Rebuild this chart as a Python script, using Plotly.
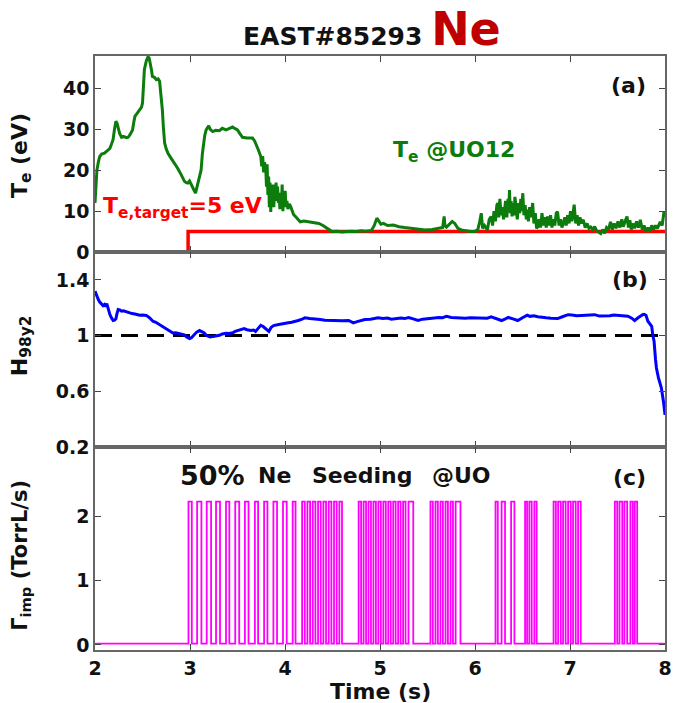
import plotly.graph_objects as go
from plotly.subplots import make_subplots

# ---------------- data ----------------
te_time = [2.000, 2.010, 2.020, 2.035, 2.050, 2.070, 2.100, 2.130, 2.157, 2.175, 2.190, 2.205, 2.220, 2.232, 2.244,
           2.260, 2.280, 2.300, 2.330, 2.349, 2.370, 2.395, 2.410, 2.420, 2.445, 2.470, 2.490, 2.500, 2.510, 2.520,
           2.540, 2.558, 2.570, 2.583, 2.595, 2.604, 2.625, 2.646, 2.665, 2.680, 2.695, 2.709, 2.720, 2.733, 2.750,
           2.768, 2.800, 2.838, 2.870, 2.908, 2.925, 2.942, 2.960, 2.977, 2.995, 3.013, 3.035, 3.058, 3.075, 3.092,
           3.105, 3.117, 3.130, 3.141, 3.155, 3.170, 3.185, 3.197, 3.215, 3.239, 3.270, 3.309, 3.340, 3.379, 3.410,
           3.448, 3.475, 3.500, 3.525, 3.553, 3.600, 3.658, 3.680, 3.700, 3.720, 3.745, 3.755, 3.765, 3.775, 3.785,
           3.798, 3.805, 3.812, 3.820, 3.828, 3.835, 3.842, 3.850, 3.858, 3.866, 3.874, 3.882, 3.890, 3.898, 3.906,
           3.914, 3.922, 3.930, 3.938, 3.946, 3.954, 3.962, 3.970, 3.978, 3.986, 3.994, 4.002, 4.010, 4.020, 4.030,
           4.045, 4.060, 4.075, 4.090, 4.110, 4.135, 4.160, 4.200, 4.250, 4.300, 4.356, 4.400, 4.443, 4.470, 4.495,
           4.550, 4.600, 4.650, 4.700, 4.750, 4.800, 4.850, 4.910, 4.940, 4.967, 4.990, 5.010, 5.037, 5.080, 5.140,
           5.200, 5.260, 5.333, 5.400, 5.473, 5.550, 5.620, 5.660, 5.675, 5.683, 5.700, 5.730, 5.760, 5.787, 5.820,
           5.857, 5.900, 5.950, 5.997, 6.030, 6.050, 6.066, 6.080, 6.100, 6.130, 6.150, 6.170, 6.185, 6.200, 6.215,
           6.230, 6.240, 6.250, 6.262, 6.275, 6.290, 6.300, 6.310, 6.322, 6.335, 6.348, 6.356, 6.363, 6.372, 6.380,
           6.390, 6.400, 6.412, 6.420, 6.432, 6.445, 6.458, 6.470, 6.482, 6.492, 6.503, 6.515, 6.528, 6.540, 6.550,
           6.562, 6.575, 6.590, 6.607, 6.620, 6.635, 6.648, 6.660, 6.675, 6.690, 6.705, 6.720, 6.735, 6.750, 6.764,
           6.780, 6.795, 6.810, 6.825, 6.840, 6.855, 6.869, 6.885, 6.900, 6.915, 6.930, 6.945, 6.960, 6.975, 6.990,
           7.005, 7.020, 7.035, 7.044, 7.060, 7.075, 7.090, 7.105, 7.120, 7.140, 7.160, 7.180, 7.200, 7.218, 7.240,
           7.260, 7.280, 7.300, 7.323, 7.345, 7.365, 7.385, 7.405, 7.427, 7.445, 7.465, 7.485, 7.505, 7.525, 7.545,
           7.560, 7.580, 7.600, 7.615, 7.630, 7.645, 7.660, 7.680, 7.700, 7.720, 7.740, 7.760, 7.780, 7.800, 7.820,
           7.840, 7.860, 7.880, 7.900, 7.920, 7.950, 7.970, 7.990, 8.000]
te_vals = [12.0, 16.5, 20.0, 22.0, 23.4, 24.0, 24.2, 24.8, 25.4, 26.5, 27.5, 30.0, 32.0, 31.5, 30.4,
           29.0, 28.1, 28.3, 28.0, 28.1, 28.8, 29.9, 32.0, 33.2, 34.0, 34.8, 35.5, 36.5, 40.0, 44.7,
           46.8, 47.8, 47.5, 46.3, 44.5, 43.0, 42.8, 42.2, 42.4, 41.8, 38.5, 34.8, 30.5, 26.7, 25.2,
           24.2, 23.0, 21.8, 20.5, 18.9, 18.0, 17.3, 17.0, 16.9, 17.4, 16.4, 15.5, 14.4, 16.0, 17.7,
           19.0, 20.1, 24.0, 26.7, 28.5, 29.9, 30.6, 30.9, 30.0, 29.5, 29.8, 29.7, 30.3, 29.9, 30.2,
           30.6, 30.2, 29.9, 29.0, 28.1, 27.9, 27.9, 27.2, 26.3, 25.0, 23.4, 21.0, 23.5, 19.5, 22.0,
           20.1, 16.0, 21.5, 14.0, 18.5, 11.0, 17.0, 9.8, 15.5, 12.0, 16.5, 11.0, 15.0, 12.5, 17.0,
           13.0, 16.0, 12.0, 14.5, 10.5, 13.5, 11.0, 16.5, 10.0, 14.0, 11.5, 15.0, 11.0, 12.5, 10.5,
           11.8, 11.1, 10.0, 9.2, 8.7, 8.0, 7.4, 7.6, 7.4, 7.1, 7.0, 6.5, 5.8, 5.3, 5.0,
           5.1, 4.9, 5.0, 5.1, 5.0, 5.2, 5.1, 5.3, 6.5, 8.3, 7.5, 6.8, 7.0, 6.5, 6.6,
           6.2, 6.0, 5.8, 5.6, 5.4, 5.5, 5.7, 6.0, 8.7, 6.5, 6.1, 6.8, 7.5, 7.0, 5.8,
           5.4, 5.2, 5.0, 5.0, 5.5, 7.5, 9.5, 5.8, 6.5, 5.4, 8.0, 8.7, 6.5, 10.0, 7.5,
           11.5, 12.0, 8.5, 13.0, 9.0, 11.0, 8.0, 10.4, 12.5, 8.5, 13.0, 10.0, 15.2, 9.5, 12.5,
           8.7, 12.0, 9.0, 13.5, 11.2, 8.0, 12.0, 9.5, 13.0, 10.0, 14.4, 9.0, 11.5, 8.0, 10.4,
           7.5, 11.0, 8.5, 12.0, 7.0, 9.5, 5.8, 6.1, 8.0, 6.0, 9.5, 6.5, 8.5, 6.0, 8.7,
           6.5, 9.0, 6.0, 8.0, 6.5, 9.5, 9.9, 6.5, 8.0, 6.0, 7.0, 8.5, 6.5, 9.0, 7.0,
           10.0, 7.5, 10.5, 11.6, 7.0, 9.0, 6.5, 8.5, 7.0, 7.9, 6.0, 7.0, 5.8, 6.1, 5.5,
           6.2, 5.2, 4.8, 4.5, 5.5, 4.6, 6.0, 5.5, 7.4, 5.5, 7.0, 5.8, 7.5, 6.0, 8.0,
           6.2, 7.5, 8.7, 6.0, 7.8, 5.5, 7.0, 5.8, 7.5, 6.0, 7.9, 5.5, 6.5, 5.0, 6.0,
           5.0, 6.5, 5.5, 6.5, 5.8, 7.4, 6.5, 9.9, 8.5]

target_time = [2.98, 2.98, 8.0]
target_vals = [0.0, 5.0, 5.0]

h98_time = [2.000, 2.015, 2.035, 2.050, 2.070, 2.085, 2.100, 2.112, 2.124, 2.140, 2.157, 2.175, 2.192, 2.205, 2.220,
            2.232, 2.244, 2.260, 2.280, 2.300, 2.330, 2.360, 2.390, 2.420, 2.450, 2.470, 2.500, 2.540, 2.570, 2.610,
            2.640, 2.680, 2.710, 2.750, 2.780, 2.820, 2.850, 2.890, 2.920, 2.940, 2.965, 2.995, 3.015, 3.040, 3.070,
            3.100, 3.120, 3.150, 3.170, 3.187, 3.210, 3.240, 3.270, 3.310, 3.340, 3.380, 3.410, 3.450, 3.475, 3.500,
            3.535, 3.570, 3.600, 3.640, 3.670, 3.690, 3.715, 3.745, 3.770, 3.800, 3.815, 3.830, 3.855, 3.880, 3.920,
            3.970, 4.020, 4.070, 4.100, 4.140, 4.180, 4.210, 4.260, 4.320, 4.370, 4.420, 4.480, 4.530, 4.600, 4.670,
            4.700, 4.720, 4.760, 4.800, 4.840, 4.900, 4.950, 4.980, 5.030, 5.080, 5.120, 5.160, 5.220, 5.260, 5.300,
            5.350, 5.400, 5.450, 5.500, 5.560, 5.620, 5.660, 5.700, 5.750, 5.800, 5.850, 5.900, 5.950, 6.030, 6.080,
            6.130, 6.170, 6.220, 6.280, 6.320, 6.350, 6.400, 6.450, 6.500, 6.530, 6.550, 6.580, 6.620, 6.660, 6.700,
            6.750, 6.800, 6.870, 6.920, 6.980, 7.020, 7.070, 7.120, 7.180, 7.220, 7.260, 7.310, 7.360, 7.420, 7.460,
            7.500, 7.550, 7.610, 7.650, 7.680, 7.720, 7.750, 7.765, 7.780, 7.800, 7.820, 7.840, 7.860, 7.872, 7.885,
            7.900, 7.910, 7.930, 7.962, 7.985, 8.000]
h98_vals = [1.319, 1.290, 1.259, 1.240, 1.223, 1.215, 1.223, 1.210, 1.230, 1.190, 1.151, 1.125, 1.108, 1.110, 1.120,
            1.160, 1.187, 1.185, 1.175, 1.178, 1.170, 1.165, 1.158, 1.155, 1.148, 1.146, 1.147, 1.145, 1.130, 1.103,
            1.095, 1.079, 1.068, 1.050, 1.035, 1.019, 1.020, 1.015, 1.010, 1.005, 0.990, 0.978, 0.985, 1.007, 1.025,
            1.036, 1.030, 1.019, 1.002, 0.995, 0.990, 0.993, 0.997, 1.002, 1.012, 1.017, 1.015, 1.020, 1.030, 1.036,
            1.045, 1.050, 1.042, 1.036, 1.040, 1.030, 1.050, 1.074, 1.065, 1.050, 1.040, 1.030, 1.060, 1.072, 1.078,
            1.086, 1.090, 1.096, 1.100, 1.108, 1.118, 1.127, 1.122, 1.120, 1.115, 1.110, 1.108, 1.108, 1.106, 1.108,
            1.098, 1.091, 1.100, 1.108, 1.115, 1.118, 1.124, 1.127, 1.122, 1.126, 1.118, 1.122, 1.126, 1.122, 1.130,
            1.120, 1.108, 1.118, 1.122, 1.125, 1.130, 1.128, 1.139, 1.130, 1.128, 1.130, 1.125, 1.128, 1.127, 1.130,
            1.125, 1.134, 1.122, 1.108, 1.120, 1.130, 1.120, 1.108, 1.128, 1.140, 1.146, 1.138, 1.142, 1.135, 1.130,
            1.128, 1.125, 1.122, 1.135, 1.150, 1.148, 1.142, 1.144, 1.148, 1.146, 1.150, 1.140, 1.139, 1.142, 1.148,
            1.146, 1.140, 1.139, 1.125, 1.108, 1.130, 1.148, 1.150, 1.152, 1.146, 1.103, 1.085, 1.067, 1.000, 0.959,
            0.830, 0.767, 0.700, 0.623, 0.520, 0.430]

pulse_on = [2.984, 3.075, 3.176, 3.274, 3.379, 3.476, 3.578, 3.683, 3.780, 3.878, 3.979, 4.081,
            4.180, 4.236, 4.292, 4.348, 4.404, 4.460, 4.516, 4.572,
            4.775, 4.827, 4.879, 4.931, 4.983, 5.035, 5.087, 5.139, 5.191, 5.243, 5.300,
            5.531, 5.584, 5.637, 5.690, 5.743, 5.796,
            6.216, 6.280, 6.380,
            6.527, 6.572, 6.625,
            6.827, 6.875, 6.927, 6.980, 7.032, 7.085,
            7.472, 7.521, 7.573, 7.636, 7.682]
pulse_off = [3.019, 3.120, 3.222, 3.316, 3.414, 3.518, 3.616, 3.717, 3.815, 3.916, 4.018, 4.111,
             4.208, 4.264, 4.320, 4.376, 4.432, 4.488, 4.544, 4.600,
             4.801, 4.853, 4.905, 4.957, 5.009, 5.061, 5.113, 5.165, 5.217, 5.269, 5.350,
             5.556, 5.609, 5.662, 5.715, 5.768, 5.847,
             6.240, 6.316, 6.415,
             6.548, 6.597, 6.649,
             6.851, 6.903, 6.954, 7.008, 7.060, 7.113,
             7.497, 7.550, 7.602, 7.661, 7.707]
pulse_height = 2.23
flow_base = 0.02

h98_ref = 1.0

# build step trace for the gas puff waveform
gx, gy = [2.0], [flow_base]
for on, off in zip(pulse_on, pulse_off):
    gx += [on, on, off, off]
    gy += [flow_base, pulse_height, pulse_height, flow_base]
gx.append(8.0)
gy.append(flow_base)

# ---------------- figure ----------------
FONT = "DejaVu Sans, Liberation Sans, Arial, sans-serif"
fig = make_subplots(rows=3, cols=1, shared_xaxes=True, vertical_spacing=0)

fig.add_trace(go.Scatter(x=target_time, y=target_vals, mode="lines",
                         line=dict(color="#ff0000", width=3.5), showlegend=False), row=1, col=1)
fig.add_trace(go.Scatter(x=te_time, y=te_vals, mode="lines",
                         line=dict(color="#0c7c0c", width=3), showlegend=False), row=1, col=1)

fig.add_trace(go.Scatter(x=[2.0, 8.0], y=[h98_ref, h98_ref], mode="lines",
                         line=dict(color="black", width=3, dash="17px,9px"), showlegend=False), row=2, col=1)
fig.add_trace(go.Scatter(x=h98_time, y=h98_vals, mode="lines",
                         line=dict(color="#0000ff", width=3), showlegend=False), row=2, col=1)

fig.add_trace(go.Scatter(x=gx, y=gy, mode="lines",
                         line=dict(color="#ff00ff", width=1.8), showlegend=False), row=3, col=1)

axis_common = dict(showline=True, linecolor="#666", linewidth=1.5, mirror="ticks",
                   ticks="inside", ticklen=6, tickcolor="#444", tickwidth=1.2,
                   showgrid=False, zeroline=False, automargin=False,
                   ticklabeloverflow="allow",
                   tickfont=dict(family=FONT, size=19, color="#111", weight="bold"))

for i in (1, 2, 3):
    fig.update_xaxes(range=[2, 8], tickvals=[2, 3, 4, 5, 6, 7, 8], row=i, col=1, **axis_common)

fig.update_yaxes(range=[0, 48], tickvals=[0, 10, 20, 30, 40], row=1, col=1, **axis_common)
fig.update_yaxes(range=[0.2, 1.6], tickvals=[0.2, 0.6, 1.0, 1.4], ticktext=["0.2", "0.6", "1", "1.4"],
                 row=2, col=1, **axis_common)
fig.update_yaxes(range=[-0.08, 3.08], tickvals=[0, 1, 2], row=3, col=1, **axis_common)

fig.update_layout(
    width=673, height=703,
    margin=dict(l=95, r=8, t=56, b=53),
    plot_bgcolor="white", paper_bgcolor="white",
    yaxis=dict(domain=[0.670, 1.0]),
    yaxis2=dict(domain=[0.3418, 0.670]),
    yaxis3=dict(domain=[0.0, 0.3418]),
    showlegend=False,
)

def ann(text, x, y, size, color="#111", xref="x", yref="y", angle=0, xanchor="center"):
    fig.add_annotation(text=text, x=x, y=y, xref=xref, yref=yref, showarrow=False,
                       textangle=angle, xanchor=xanchor, yanchor="middle",
                       font=dict(family=FONT, size=size, color=color, weight="bold"))

# title
ann("EAST#85293 <span style='font-size:46px;color:#c00000'>Ne</span>", 0.486, 1.046, 25,
    xref="paper", yref="paper")

# panel (a)
ann("(a)", 7.62, 40.8, 22)
ann("T<sub>e</sub> @UO12", 5.78, 24.5, 22, color="#0c7c0c")
ann("T<sub>e,target</sub>=5 eV", 2.92, 10.8, 22, color="#ff0000")

# panel (b)
ann("(b)", 7.63, 1.404, 22, xref="x2", yref="y2")

# panel (c)
ann("(c)", 7.63, 2.61, 22, xref="x3", yref="y3")
ann("50%", 3.24, 2.63, 27, xref="x3", yref="y3")
ann("Ne", 3.885, 2.63, 22, xref="x3", yref="y3")
ann("Seeding", 4.806, 2.63, 22, xref="x3", yref="y3")
ann("@UO", 5.853, 2.63, 22, xref="x3", yref="y3")

# axis titles
ann("T<sub>e</sub> (eV)", -0.13, 0.833, 22, xref="paper", yref="paper", angle=-90)
ann("H<sub>98y2</sub>", -0.13, 0.513, 22, xref="paper", yref="paper", angle=-90)
ann("Γ<sub>imp</sub> (TorrL/s)", -0.13, 0.16, 21, xref="paper", yref="paper", angle=-90)
ann("Time (s)", 0.5, -0.07, 22, xref="paper", yref="paper")

fig.write_html("out.html")
